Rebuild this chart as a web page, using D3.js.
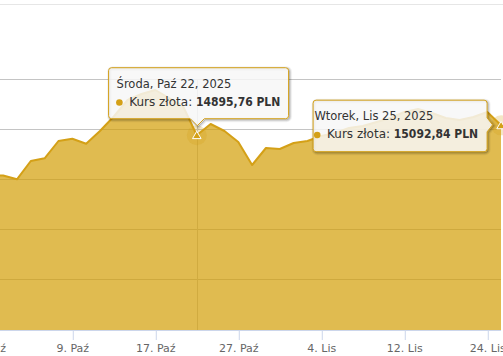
<!DOCTYPE html>
<html><head><meta charset="utf-8">
<script src="https://cdn.jsdelivr.net/npm/d3@7"></script>
<style>
html,body{margin:0;padding:0;background:#fff;overflow:hidden;}
svg{display:block;font-family:"DejaVu Sans",sans-serif;}
</style>
</head><body><div id="chart"></div>
<script>
// ---- data (ordinal axis: one slot per quote) ----
const dates = [
  "2025-10-01","2025-10-02","2025-10-03","2025-10-06","2025-10-07","2025-10-08",
  "2025-10-09","2025-10-10","2025-10-13","2025-10-14","2025-10-15","2025-10-16",
  "2025-10-17","2025-10-20","2025-10-21","2025-10-22","2025-10-23","2025-10-24",
  "2025-10-27","2025-10-28","2025-10-29","2025-10-30","2025-10-31","2025-11-03",
  "2025-11-04","2025-11-05","2025-11-06","2025-11-07","2025-11-10","2025-11-11",
  "2025-11-12","2025-11-13","2025-11-14","2025-11-17","2025-11-19","2025-11-21",
  "2025-11-24","2025-11-25"
];
const values = [
  14100,14090,14014,14380,14434,14780,
  14826,14726,14980,15270,15600,15720,
  15800,15640,15480,14895.76,15120,14980,
  14760,14300,14640,14620,14740,14780,
  14880,14940,15040,15080,15160,15240,
  15360,15420,15340,15240,15200,15260,
  15360,15092.84
];
const tickDates = ["2025-10-01","2025-10-09","2025-10-17","2025-10-27","2025-11-04","2025-11-12","2025-11-24"];
const yTicks = [12000,13000,14000,15000,16000];
const yDomain = [11000,16000];
const tooltipDates = ["2025-10-22","2025-11-25"];
const seriesName = "Kurs złota";
const currency = "PLN";
const monthNames = ["Sty","Lut","Mar","Kwi","Maj","Cze","Lip","Sie","Wrz","Paź","Lis","Gru"];
const dayNames = ["Niedziela","Poniedziałek","Wtorek","Środa","Czwartek","Piątek","Sobota"];

// ---- layout ----
const W = 503, H = 356;
const plot = {left:0, right:501, top:80, bottom:330};
const firstSlotX = -10.7, lastSlotX = 501.1;
const gold = "#d4a017", fillCol = "#d39e06", fillOp = 0.7;

const parse = d3.timeParse("%Y-%m-%d");
const pd = dates.map(parse);
const svg = d3.select("#chart").append("svg").attr("width",W).attr("height",H);

const x = d3.scaleLinear().domain([0, dates.length-1]).range([firstSlotX, lastSlotX]);
const y = d3.scaleLinear().domain(yDomain).range([plot.bottom, plot.top]);

svg.append("defs").append("clipPath").attr("id","clip")
  .append("rect").attr("x",plot.left).attr("y",0).attr("width",plot.right-plot.left).attr("height",plot.bottom);

// top border line
svg.append("line").attr("x1",0).attr("x2",W).attr("y1",4.5).attr("y2",4.5)
  .attr("stroke","#e6e6e6").attr("stroke-width",1);

// gridlines
svg.append("g").selectAll("line").data(yTicks).join("line")
  .attr("x1",plot.left).attr("x2",plot.right)
  .attr("y1",d=>Math.round(y(d))-0.5).attr("y2",d=>Math.round(y(d))-0.5)
  .attr("stroke","#c4c4c4").attr("stroke-width",1);

// crosshair for first tooltip
const ttIdx = tooltipDates.map(t=>dates.indexOf(t));
svg.append("line")
  .attr("x1",Math.round(x(ttIdx[0]))+0.5).attr("x2",Math.round(x(ttIdx[0]))+0.5)
  .attr("y1",plot.top).attr("y2",plot.bottom)
  .attr("stroke","#c8c8c8").attr("stroke-width",1);

// area
const g = svg.append("g").attr("clip-path","url(#clip)");
const area = d3.area().x((d,i)=>x(i)).y0(y(yDomain[0])).y1(d=>y(d));
const line = d3.line().x((d,i)=>x(i)).y(d=>y(d));
g.append("path").datum(values).attr("d",area).attr("fill",fillCol).attr("fill-opacity",fillOp);
g.append("path").datum(values).attr("d",line).attr("fill","none").attr("stroke",gold)
  .attr("stroke-width",2).attr("stroke-linejoin","round");

// x axis
const tickIdx = tickDates.map(t=>dates.indexOf(t));
const fmtTick = i => `${pd[i].getDate()}. ${monthNames[pd[i].getMonth()]}`;
const ax = svg.append("g").attr("transform",`translate(0,${plot.bottom})`)
  .call(d3.axisBottom(x).tickValues(tickIdx).tickFormat(fmtTick).tickSize(10).tickPadding(6));
ax.select(".domain").remove();
ax.selectAll(".tick line").attr("stroke","#ccd6eb").attr("transform","translate(0.5,0)");
ax.selectAll(".tick text").attr("fill","#666").attr("font-size","11px")
  .attr("font-family","DejaVu Sans, sans-serif").attr("dy","0.55em");
svg.append("line").attr("x1",plot.left).attr("x2",plot.right)
  .attr("y1",plot.bottom+0.5).attr("y2",plot.bottom+0.5).attr("stroke","#ccd6eb");

// hover markers
ttIdx.forEach(i=>{
  const px = x(i), py = y(values[i]);
  svg.append("circle").attr("cx",px).attr("cy",py).attr("r",10)
    .attr("fill",gold).attr("fill-opacity",0.25);
  svg.append("path")
    .attr("d",`M${px},${py-4} L${px+4.3},${py+3.4} L${px-4.3},${py+3.4} Z`)
    .attr("fill",gold).attr("stroke","#fff").attr("stroke-width",1);
});

// tooltips
const fmtVal = v => d3.format(".2f")(v).replace(".",",") + " " + currency;
const fmtHead = d => `${dayNames[d.getDay()]}, ${monthNames[d.getMonth()]} ${d.getDate()}, ${d.getFullYear()}`;
function calloutBottom(bx,by,w,h,r,tx,ty){
  return `M${bx+r},${by} H${bx+w-r} A${r},${r} 0 0 1 ${bx+w},${by+r} V${by+h-r} A${r},${r} 0 0 1 ${bx+w-r},${by+h} `+
    `H${tx+7} L${tx},${ty} L${tx-7},${by+h} H${bx+r} A${r},${r} 0 0 1 ${bx},${by+h-r} V${by+r} A${r},${r} 0 0 1 ${bx+r},${by} Z`;
}
function calloutRight(bx,by,w,h,r,tx,ty){
  return `M${bx+r},${by} H${bx+w-r} A${r},${r} 0 0 1 ${bx+w},${by+r} V${ty-7} L${tx},${ty} L${bx+w},${ty+7} V${by+h-r} `+
    `A${r},${r} 0 0 1 ${bx+w-r},${by+h} H${bx+r} A${r},${r} 0 0 1 ${bx},${by+h-r} V${by+r} A${r},${r} 0 0 1 ${bx+r},${by} Z`;
}
function tooltip(i, kind){
  const px = x(i), py = y(values[i]);
  let bx, by, w, h, d, pad;
  if(kind==="bottom"){
    w = 180; h = 51; bx = px - w/2 + 1.3; by = py - 17 - h; pad = 8.5;
    d = calloutBottom(bx+0.5,by+0.5,w,h,3,px+0.5,py-9.5);
  } else {
    w = 174; h = 51.5; bx = px - 14.5 - w; by = py - 25.7; pad = 1.8;
    d = calloutRight(bx+0.5,by+0.5,w,h,3,px-8.5,py-0.5);
  }
  const tg = svg.append("g");
  [[5,0.05],[3,0.1],[1,0.15]].forEach(([sw,op])=>{
    tg.append("path").attr("d",d).attr("transform","translate(1,1)")
      .attr("fill","none").attr("stroke","#000").attr("stroke-opacity",op).attr("stroke-width",sw);
  });
  tg.append("path").attr("d",d).attr("fill","rgba(247,247,247,0.85)")
    .attr("stroke",gold).attr("stroke-width",1);
  tg.append("text").attr("x",bx+pad).attr("y",by+20.6).attr("font-size","11.5px").attr("fill","#333")
    .text(fmtHead(pd[i]));
  tg.append("circle").attr("cx",bx+pad+2.8).attr("cy",by+35.3).attr("r",3.3).attr("fill",gold);
  const t = tg.append("text").attr("x",bx+pad+12.6).attr("y",by+38.6).attr("font-size","12px").attr("fill","#333");
  t.append("tspan").text(seriesName+": ");
  t.append("tspan").attr("font-weight","bold").attr("font-family","DejaVu Sans Condensed, DejaVu Sans, sans-serif")
    .attr("font-stretch","condensed").text(fmtVal(values[i]));
}
tooltip(ttIdx[0],"bottom");
tooltip(ttIdx[1],"right");
</script>
</body></html>
